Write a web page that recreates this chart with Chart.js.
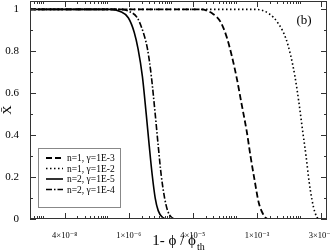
<!DOCTYPE html>
<html>
<head>
<meta charset="utf-8">
<script src="https://cdn.jsdelivr.net/npm/chart.js@4"></script>
<style>
  html, body { margin: 0; padding: 0; background: #fff; }
  #wrap { width: 330px; height: 251px; }
</style>
</head>
<body>
<div id="wrap"><canvas id="xChart" width="330" height="251"></canvas></div>
<script>
// x values are log10(1 - phi/phi_th)
const xMin = -8.31;
const xMax = -1.36;
const xMajor = [-7.5, -6, -4.5, -3, -1.5];
const xTickLabels = ['4×10⁻⁸', '1×10⁻⁶', '4×10⁻⁵', '1×10⁻³', '3×10⁻²'];
const yMajor = [0, 0.2, 0.4, 0.6, 0.8, 1];
const yMinor = [0.1, 0.3, 0.5, 0.7, 0.9];

const labels = ['n=1, γ=1E-3', 'n=1, γ=1E-2', 'n=2, γ=1E-5', 'n=2, γ=1E-4'];

const dashX = [-8.31, -4.32, -4.04, -3.85, -3.71, -3.59, -3.47, -3.36, -3.24, -3.15, -3.05, -2.96, -2.86, -2.75, -1.36];
const dashY = [1, 1, 0.98, 0.94, 0.87, 0.78, 0.67, 0.55, 0.42, 0.3, 0.18, 0.08, 0.025, 0, 0];

const dotX = [-8.31, -3.03, -2.72, -2.49, -2.32, -2.21, -2.11, -2.02, -1.93, -1.85, -1.78, -1.71, -1.64, -1.55, -1.36];
const dotY = [1, 1, 0.98, 0.93, 0.86, 0.78, 0.68, 0.56, 0.42, 0.3, 0.18, 0.09, 0.03, 0, 0];

const solidX = [-8.31, -6.43, -6.20, -6.01, -5.87, -5.78, -5.68, -5.59, -5.52, -5.45, -5.38, -5.31, -5.21, -5.12, -1.36];
const solidY = [1, 1, 0.99, 0.96, 0.89, 0.81, 0.68, 0.5, 0.35, 0.21, 0.1, 0.04, 0.008, 0, 0];

const dashDotX = [-8.31, -6.22, -5.99, -5.80, -5.66, -5.56, -5.47, -5.38, -5.31, -5.24, -5.16, -5.09, -5.00, -4.91, -1.36];
const dashDotY = [1, 1, 0.99, 0.96, 0.89, 0.81, 0.68, 0.5, 0.35, 0.21, 0.1, 0.04, 0.008, 0, 0];

const pts = (xs, ys) => xs.map((x, i) => ({ x: x, y: ys[i] }));

const serif = '"Liberation Serif", "DejaVu Serif", serif';

const styles = [
  { dash: [6, 3], width: 1.8 },
  { dash: [1.5, 2.5], width: 1.6 },
  { dash: [], width: 1.6 },
  { dash: [6, 2, 1.5, 2], width: 1.6 }
];

// frame with inward ticks on all four sides
const frameTicks = {
  id: 'frameTicks',
  afterDatasetsDraw(chart) {
    const { ctx, chartArea: a, scales: { x, y } } = chart;
    ctx.save();
    ctx.strokeStyle = '#333';
    ctx.lineWidth = 1;
    ctx.strokeRect(a.left + 0.5, a.top + 0.5, a.right - a.left - 1, a.bottom - a.top - 1);
    ctx.beginPath();
    const xMinor = [];
    [-9].concat(xMajor).forEach(m => {
      for (let k = 2; k <= 10; k++) xMinor.push(m + Math.log10(k));
    });
    const vtick = (v, len) => {
      if (v < xMin || v > xMax) return;
      const px = Math.round(x.getPixelForValue(v)) + 0.5;
      ctx.moveTo(px, a.bottom); ctx.lineTo(px, a.bottom - len);
      ctx.moveTo(px, a.top); ctx.lineTo(px, a.top + len);
    };
    xMajor.forEach(v => vtick(v, 6));
    xMinor.forEach(v => vtick(v, 3));
    const htick = (v, len) => {
      const py = Math.round(y.getPixelForValue(v)) + 0.5;
      ctx.moveTo(a.left, py); ctx.lineTo(a.left + len, py);
      ctx.moveTo(a.right, py); ctx.lineTo(a.right - len, py);
    };
    yMajor.forEach(v => htick(v, 6));
    yMinor.forEach(v => htick(v, 3));
    ctx.stroke();

    // panel label
    ctx.fillStyle = '#000';
    ctx.font = '13px ' + serif;
    ctx.textAlign = 'center';
    ctx.textBaseline = 'middle';
    ctx.fillText('(b)', 304, 21);

    // x axis title with subscript
    const cx = (a.left + a.right) / 2;
    ctx.font = '15px ' + serif;
    const main = '1- ϕ / ϕ';
    const wMain = ctx.measureText(main).width;
    ctx.font = '10px ' + serif;
    const wSub = ctx.measureText('th').width;
    const x0 = cx - (wMain + wSub + 1) / 2;
    ctx.textAlign = 'left';
    ctx.textBaseline = 'alphabetic';
    ctx.font = '15px ' + serif;
    ctx.fillText(main, x0, 245);
    ctx.font = '10px ' + serif;
    ctx.fillText('th', x0 + wMain + 1, 250);

    // legend box
    const lx = 38, ly = 148, lw = 82, lh = 59;
    ctx.fillStyle = '#fff';
    ctx.fillRect(lx, ly, lw, lh);
    ctx.strokeStyle = '#888';
    ctx.strokeRect(lx + 0.5, ly + 0.5, lw, lh);
    const rows = [158, 168.5, 179, 189.5];
    chart.data.datasets.forEach((ds, i) => {
      ctx.strokeStyle = '#000';
      ctx.lineWidth = ds.borderWidth;
      ctx.setLineDash(ds.borderDash);
      ctx.beginPath();
      ctx.moveTo(46, rows[i]);
      ctx.lineTo(63, rows[i]);
      ctx.stroke();
      ctx.setLineDash([]);
      ctx.fillStyle = '#000';
      ctx.font = '9.5px ' + serif;
      ctx.textBaseline = 'middle';
      ctx.fillText(ds.label, 67, rows[i] + 0.5);
    });
    ctx.restore();
  }
};

const ctx = document.getElementById('xChart').getContext('2d');
new Chart(ctx, {
  type: 'line',
  data: {
    datasets: [
      { label: labels[0], data: pts(dashX, dashY) },
      { label: labels[1], data: pts(dotX, dotY) },
      { label: labels[2], data: pts(solidX, solidY) },
      { label: labels[3], data: pts(dashDotX, dashDotY) }
    ].map((d, i) => Object.assign(d, {
      borderColor: '#000',
      borderWidth: styles[i].width,
      borderDash: styles[i].dash,
      pointRadius: 0,
      fill: false,
      cubicInterpolationMode: 'monotone'
    }))
  },
  options: {
    responsive: false,
    animation: false,
    layout: { padding: { top: 1, right: 3, left: 0, bottom: 0 } },
    plugins: {
      legend: { display: false },
      tooltip: { enabled: false }
    },
    scales: {
      x: {
        type: 'linear',
        min: xMin,
        max: xMax,
        grid: { display: false },
        border: { display: false },
        afterBuildTicks: s => { s.ticks = xMajor.map(v => ({ value: v })); },
        afterFit: s => { s.height = 32; s.paddingLeft = 0; s.paddingRight = 0; },
        ticks: {
          autoSkip: false,
          maxRotation: 0,
          padding: 4,
          color: '#000',
          font: { family: serif, size: 8.5 },
          callback: v => xTickLabels[xMajor.indexOf(v)]
        }
      },
      y: {
        min: 0,
        max: 1.04,
        grid: { display: false },
        border: { display: false },
        afterBuildTicks: s => { s.ticks = yMajor.map(v => ({ value: v })); },
        afterFit: s => { s.width = 30; s.paddingTop = 0; s.paddingBottom = 0; },
        title: {
          display: true,
          text: 'X̄',
          color: '#000',
          padding: { top: 0, bottom: 0 },
          font: { family: serif, size: 13 }
        },
        ticks: {
          padding: 3,
          color: '#000',
          font: { family: serif, size: 11 },
          callback: v => (v === 0 || v === 1) ? String(v) : v.toFixed(1)
        }
      }
    }
  },
  plugins: [frameTicks]
});
</script>
</body>
</html>
